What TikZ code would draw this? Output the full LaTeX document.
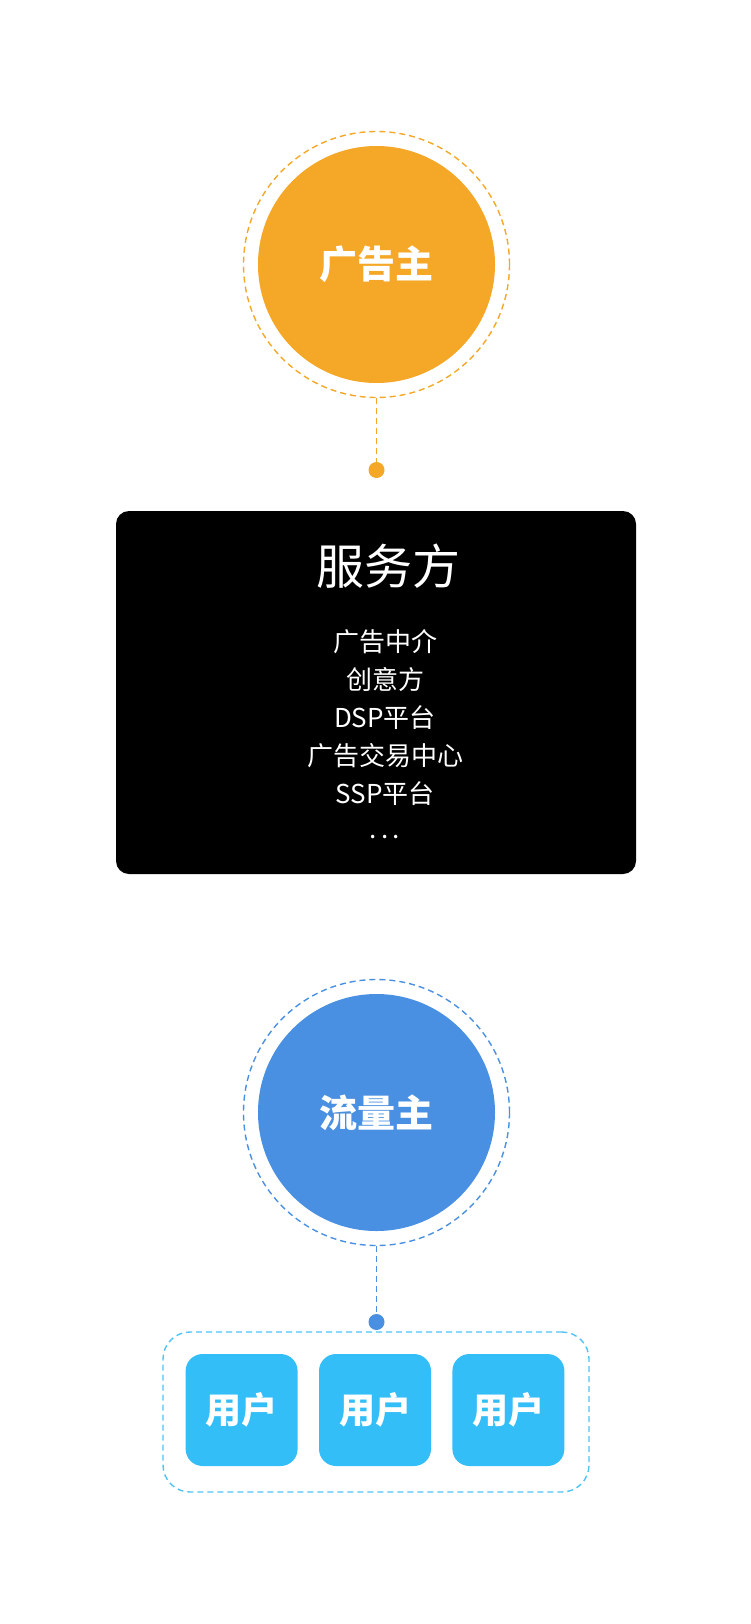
\documentclass[tikz,border=0pt]{standalone}
\usepackage{fontspec}
\setmainfont{Noto Sans CJK SC}
\usepackage{xcolor}
\usepackage{tikz}
\usetikzlibrary{positioning}

\definecolor{advorange}{HTML}{F5A727}
\definecolor{flowblue}{HTML}{4A90E2}
\definecolor{userblue}{HTML}{34BEF8}
\definecolor{groupblue}{HTML}{4FC3F7}

\begin{document}
\begin{tikzpicture}[x=1pt, y=-1pt,
    role/.style={circle, minimum size=237pt, inner sep=0pt, text=white,
                 font=\fontsize{38}{40}\selectfont\bfseries},
    ring/.style={circle, minimum size=266pt, inner sep=0pt, draw,
                 line width=1.4pt, dash pattern=on 6pt off 4pt},
    dot/.style={circle, minimum size=16pt, inner sep=0pt},
    link/.style={line width=1.4pt, dash pattern=on 6pt off 4pt},
    svcbox/.style={rectangle, rounded corners=13pt, fill=black,
                   minimum width=520pt, minimum height=363pt},
    user/.style={rectangle, rounded corners=17pt, fill=userblue, inner sep=0pt,
                 minimum size=112pt, text=white,
                 font=\fontsize{36}{38}\selectfont\bfseries}
  ]
  \useasboundingbox (0,0) rectangle (750,1624);

  % advertiser
  \node[ring, draw=advorange] (advring) at (376.5,264.5) {};
  \node[role, fill=advorange] (adv) at (376.5,264.5) {广告主};
  \node[dot, fill=advorange] (advdot) at (376.5,470) {};
  \draw[link, advorange] (advring.south) -- (advdot);

  % service providers
  \node[svcbox] (svc) at (376,692.5) {};
  \node[text=white, font=\fontsize{48}{50}\selectfont] (svctitle) at (388,566) {服务方};
  \node[text=white, align=center, font=\fontsize{26}{38}\selectfont] (svclist) at (385,734)
    {广告中介\\创意方\\DSP平台\\广告交易中心\\SSP平台\\[-3pt].\,.\,.};

  % publisher
  \node[ring, draw=flowblue] (flowring) at (376.5,1112.5) {};
  \node[role, fill=flowblue] (flow) at (376.5,1112.5) {流量主};
  \node[dot, fill=flowblue] (flowdot) at (376.5,1322) {};
  \draw[link, flowblue] (flowring.south) -- (flowdot);

  % users
  \node[draw=groupblue, line width=1.4pt, dash pattern=on 6pt off 4pt,
        rounded corners=27pt, minimum width=426pt, minimum height=160pt]
        (usergroup) at (376,1412) {};
  \node[user] (user2) at (375,1410) {用户};
  \node[user, left=21pt of user2] (user1) {用户};
  \node[user, right=21pt of user2] (user3) {用户};
\end{tikzpicture}
\end{document}
